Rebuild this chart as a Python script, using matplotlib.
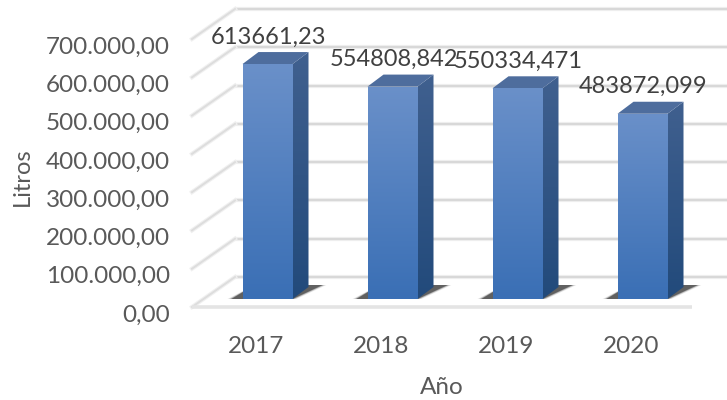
import numpy as np
import matplotlib
matplotlib.use("Agg")
import matplotlib.pyplot as plt
from matplotlib.patches import Polygon
from matplotlib.colors import LinearSegmentedColormap
from matplotlib.transforms import ScaledTranslation

years = ["2017", "2018", "2019", "2020"]
litros = [613661.23, 554808.842, 550334.471, 483872.099]
labels = ["613661,23", "554808,842", "550334,471", "483872,099"]
yticks = [0, 100000, 200000, 300000, 400000, 500000, 600000, 700000]
yticklabels = ["0,00", "100.000,00", "200.000,00", "300.000,00",
               "400.000,00", "500.000,00", "600.000,00", "700.000,00"]

plt.rcParams["font.family"] = ["Lato", "DejaVu Sans"]
W, H = 727, 400
fig = plt.figure(figsize=(W / 100, H / 100), dpi=100)
ax = fig.add_axes([205 / W, (H - 299) / H, 500 / W, 268 / H])
UX = 1 / 125            # category units per pixel
UY = 700000 / 268       # litres per pixel
BW = 0.40
DX, DY = 16 * UX, 12 * UY

def cmap(a, b):
    return LinearSegmentedColormap.from_list("g", [a, b])

front_c = cmap("#6a90c9", "#3a6fb5")
side_c = cmap("#40608f", "#224a7b")
grad = np.linspace(0, 1, 256).reshape(-1, 1)

# back wall, floor and side wall lines
wall_x0, wall_x1 = -0.26, 3.68
for v in yticks:
    yb = v + 22 * UY
    ax.plot([wall_x0, wall_x1], [yb, yb], color="#eeeeee", lw=3.0,
            clip_on=False, zorder=1, solid_capstyle="butt")
    ax.plot([wall_x0, wall_x1], [yb, yb], color="#d6d6d6", lw=1.3,
            clip_on=False, zorder=1, solid_capstyle="butt")
    ax.plot([wall_x0 - 43 * UX, wall_x0], [v - 8 * UY, yb], color="#f0f0f0",
            lw=3.0, clip_on=False, zorder=1)
    ax.plot([wall_x0 - 43 * UX, wall_x0], [v - 8 * UY, yb], color="#dddddd",
            lw=1.4, clip_on=False, zorder=1)
ax.plot([wall_x0 - 43 * UX, 3.396], [-8 * UY, -8 * UY], color="#e4e4e4", lw=2.6,
        clip_on=False, zorder=1, solid_capstyle="butt")

for i, (yr, v) in enumerate(zip(years, litros)):
    l, r = i - BW / 2, i + BW / 2

    # floor shadow
    for grow, a in [(4, 0.10), (2.5, 0.18), (1, 0.30), (0, 0.45)]:
        g = grow * UX
        ax.add_patch(Polygon([(l - 11 * UX - g, 0), (r + g, 0),
                              (r + 30 * UX + g, 14 * UY), (l + 12 * UX, 14 * UY)],
                             closed=True, fc="#222222", ec="none", alpha=a,
                             zorder=2))

    # front face
    bar = ax.bar(i, v, width=BW, color="none", zorder=4)[0]
    im = ax.imshow(grad, extent=(l, r, 0, v), aspect="auto", cmap=front_c,
                   origin="upper", zorder=4)
    im.set_clip_path(bar)

    # side face
    side = Polygon([(r, 0), (r + DX, DY), (r + DX, v + DY), (r, v)], closed=True,
                   fc="none", ec="none", zorder=3)
    ax.add_patch(side)
    im2 = ax.imshow(grad, extent=(r, r + DX, 0, v + DY), aspect="auto",
                    cmap=side_c, origin="upper", zorder=3)
    im2.set_clip_path(side)

    # top face
    ax.add_patch(Polygon([(l, v), (r, v), (r + DX, v + DY), (l + DX, v + DY)],
                         closed=True, fc="#4e6d9d", ec="none", zorder=3))

    ax.annotate(labels[i], (i, v), xytext=(1, 27),
                textcoords="offset pixels", ha="center", va="center",
                fontsize=17, color="#404040", zorder=6, annotation_clip=False)

ax.set_xlim(-0.5, 3.5)
ax.set_ylim(0, 700000)
for s in ax.spines.values():
    s.set_visible(False)
ax.patch.set_visible(False)

ax.set_xticks(range(4), years)
ax.set_yticks(yticks, yticklabels)
ax.tick_params(length=0, labelsize=17.5, labelcolor="#595959")
yoff = ScaledTranslation(-0.30, -0.14, fig.dpi_scale_trans)
for t in ax.get_yticklabels():
    t.set_transform(t.get_transform() + yoff)
xoff = ScaledTranslation(-0.115, -0.32, fig.dpi_scale_trans)
for t in ax.get_xticklabels():
    t.set_transform(t.get_transform() + xoff)

fig.text(22 / W, 1 - 177 / H, "Litros", rotation=90, ha="center", va="center",
         fontsize=17, color="#595959")
fig.text(442 / W, 1 - 388 / H, "Año", ha="center", va="center",
         fontsize=17.5, color="#595959")

fig.savefig("out.png", dpi=100, facecolor="white")
